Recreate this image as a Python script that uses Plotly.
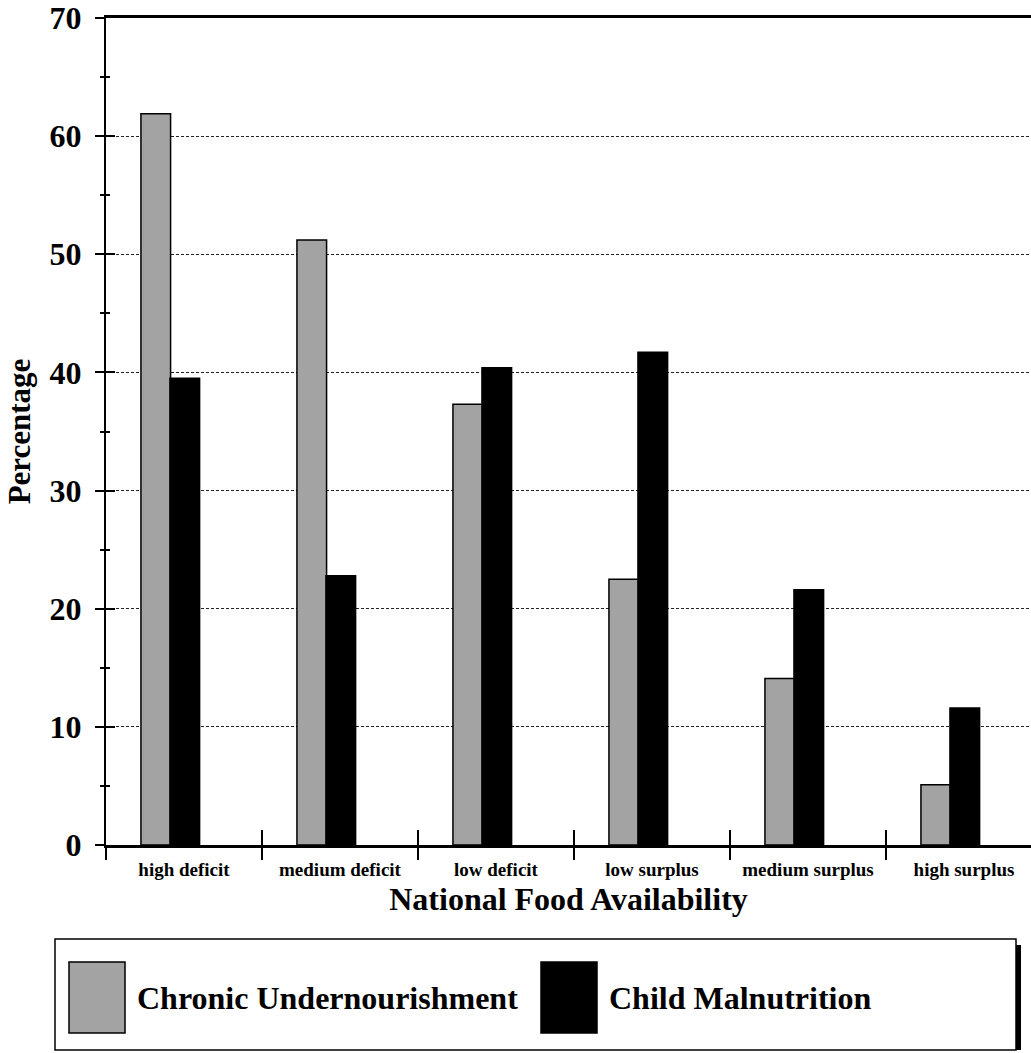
import plotly.graph_objects as go

categories = ["high deficit", "medium deficit", "low deficit", "low surplus", "medium surplus", "high surplus"]
chronic_undernourishment = [61.9, 51.2, 37.3, 22.5, 14.1, 5.1]
child_malnutrition = [39.5, 22.8, 40.4, 41.7, 21.6, 11.6]
y_ticks = [0, 10, 20, 30, 40, 50, 60, 70]
series_names = ["Chronic Undernourishment", "Child Malnutrition"]

GRAY = "#a3a3a3"
FONT = "Liberation Serif"

W, H = 1031, 1053
ML, MR, MT, MB = 106, 0, 18, 208
PW, PH = W - ML - MR, H - MT - MB
XR = [-0.5, -0.5 + PW / 156.0]


def px(x):
    return (x - ML) / PW


def py(y):
    return (H - MB - y) / PH


fig = go.Figure()
fig.add_trace(go.Bar(x=categories, y=chronic_undernourishment, name=series_names[0],
                     marker=dict(color=GRAY, line=dict(color="black", width=1.5)),
                     width=0.19, offset=-0.276, showlegend=False))
fig.add_trace(go.Bar(x=categories, y=child_malnutrition, name=series_names[1],
                     marker=dict(color="black", line=dict(color="black", width=1.5)),
                     width=0.19, offset=-0.09, showlegend=False))
# invisible helper trace so the overlaid tick-only axes (crossing ticks) are drawn
fig.add_trace(go.Scatter(x=list(range(len(categories))), y=child_malnutrition, xaxis="x2", yaxis="y2",
                         mode="markers", marker=dict(opacity=0), hoverinfo="skip", showlegend=False))

fig.update_layout(
    width=W, height=H,
    margin=dict(l=ML, r=MR, t=MT, b=MB, pad=0),
    plot_bgcolor="white", paper_bgcolor="white",
    barmode="overlay",
    font=dict(family=FONT, color="black", weight="bold"),
    xaxis=dict(type="category", categoryorder="array", categoryarray=categories,
               range=XR, showline=True, linecolor="black", linewidth=2.5, mirror=True,
               tickson="boundaries", ticks="outside", ticklen=12, tickwidth=1.5, tickcolor="black",
               showgrid=False, zeroline=False, ticklabelstandoff=5,
               tickfont=dict(family=FONT, size=19, weight="bold"),
               title=dict(text="National Food Availability", standoff=10,
                          font=dict(family=FONT, size=32, weight="bold"))),
    yaxis=dict(range=[0, 70], tickvals=y_ticks, showline=True, linecolor="black", linewidth=2,
               ticks="outside", ticklen=9, tickwidth=1.5, tickcolor="black",
               minor=dict(dtick=5, tick0=0, ticks="outside", ticklen=4, tickwidth=1.5, tickcolor="black"),
               showgrid=True, gridcolor="#222222", griddash="3px,2px", gridwidth=1, zeroline=False,
               ticklabelstandoff=7,
               tickfont=dict(family=FONT, size=32, weight="bold"),
               title=dict(text="Percentage", standoff=10,
                          font=dict(family=FONT, size=31, weight="bold"))),
    yaxis2=dict(overlaying="y", anchor="x2", side="left", range=[0, 70], tickvals=y_ticks,
                ticks="inside", ticklen=9, tickwidth=1.5, tickcolor="black",
                minor=dict(dtick=5, tick0=0, ticks="inside", ticklen=4, tickwidth=1.5, tickcolor="black"),
                showticklabels=False, showgrid=False, zeroline=False, showline=False),
    xaxis2=dict(overlaying="x", anchor="y2", side="bottom", type="linear", range=XR,
                tickvals=[i - 0.5 for i in range(1, len(categories))],
                ticks="inside", ticklen=15, tickwidth=1.5, tickcolor="black",
                showticklabels=False, showgrid=False, zeroline=False, showline=False),
)

# Legend box drawn manually (large swatches as in the original)
shapes = [
    dict(type="rect", xref="paper", yref="paper", x0=px(1016), x1=px(1021), y0=py(945), y1=py(1050),
         fillcolor="black", line=dict(width=0)),
    dict(type="rect", xref="paper", yref="paper", x0=px(55), x1=px(1016), y0=py(939), y1=py(1050),
         fillcolor="white", line=dict(color="black", width=1.5)),
    dict(type="rect", xref="paper", yref="paper", x0=px(69), x1=px(125), y0=py(962), y1=py(1033),
         fillcolor=GRAY, line=dict(color="black", width=1.5)),
    dict(type="rect", xref="paper", yref="paper", x0=px(541), x1=px(597), y0=py(962), y1=py(1033),
         fillcolor="black", line=dict(color="black", width=1.5)),
]
fig.update_layout(shapes=shapes)
fig.add_annotation(xref="paper", yref="paper", x=px(135), y=py(998), xanchor="left", yanchor="middle",
                   text=series_names[0], showarrow=False,
                   font=dict(family=FONT, size=32, weight="bold", color="black"))
fig.add_annotation(xref="paper", yref="paper", x=px(607), y=py(998), xanchor="left", yanchor="middle",
                   text=series_names[1], showarrow=False,
                   font=dict(family=FONT, size=32, weight="bold", color="black"))

fig.write_html("out.html", config={"displayModeBar": False},
               post_script="document.body.style.margin='0px';")
